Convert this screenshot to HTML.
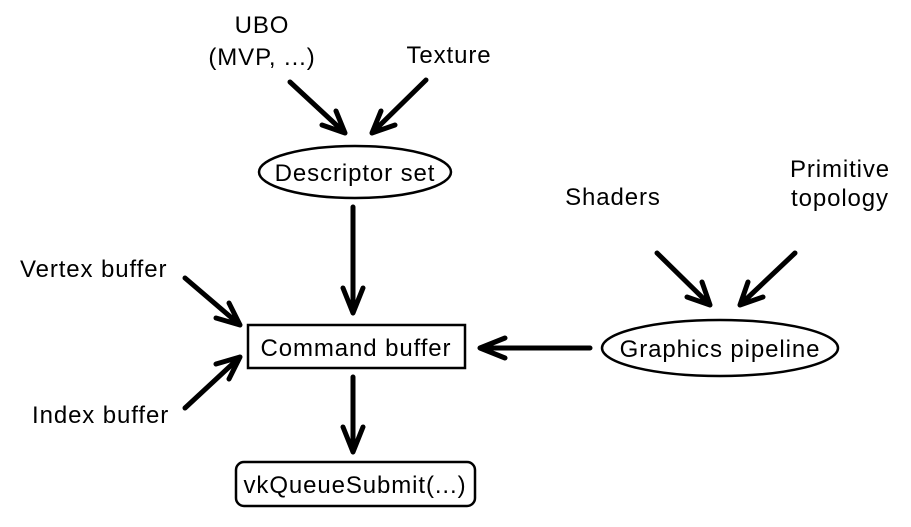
<!DOCTYPE html>
<html><head><style>
body{margin:0;background:#fff;}
svg{display:block;}
text{font-family:"Liberation Sans",sans-serif;font-size:24px;letter-spacing:0.9px;fill:#000;}
</style></head><body>
<svg width="911" height="527" viewBox="0 0 911 527">
<g stroke="#000" stroke-width="5" fill="none" stroke-linecap="round" stroke-linejoin="miter">
<path d="M290,82 L345,133 M345,133 L322,125 M345,133 L336,111"/>
<path d="M426,80 L372,133 M372,133 L381,111 M372,133 L395,125"/>
<path d="M353,207 L353,313 M353,313 L343,288 M353,313 L363,288"/>
<path d="M185,278 L240,325 M240,325 L216,318 M240,325 L229,303"/>
<path d="M185,408 L240,357 M240,357 L216,364 M240,357 L229,379"/>
<path d="M353,377 L353,452 M353,452 L343,427 M353,452 L363,427"/>
<path d="M590,348 L480,348 M480,348 L505,338 M480,348 L505,358"/>
<path d="M657,253 L710,305 M710,305 L687,297 M710,305 L702,282"/>
<path d="M795,253 L740,305 M740,305 L748,282 M740,305 L763,297"/>
</g>
<g stroke="#000" stroke-width="2.5" fill="none">
<ellipse cx="355" cy="172" rx="96" ry="26"/>
<rect x="248" y="325" width="217" height="43"/>
<rect x="236" y="462" width="239" height="44" rx="8"/>
<ellipse cx="720" cy="348" rx="118" ry="28"/>
</g>
<text x="262" y="33" text-anchor="middle">UBO</text>
<text x="262" y="65" text-anchor="middle">(MVP, ...)</text>
<text x="449" y="63" text-anchor="middle">Texture</text>
<text x="355" y="181" text-anchor="middle">Descriptor set</text>
<text x="20" y="277">Vertex buffer</text>
<text x="32" y="423">Index buffer</text>
<text x="356" y="356" text-anchor="middle">Command buffer</text>
<text x="355" y="493" text-anchor="middle">vkQueueSubmit(...)</text>
<text x="720" y="357" text-anchor="middle">Graphics pipeline</text>
<text x="613" y="205" text-anchor="middle">Shaders</text>
<text x="840" y="177" text-anchor="middle">Primitive</text>
<text x="840" y="206" text-anchor="middle">topology</text>
</svg>
</body></html>
